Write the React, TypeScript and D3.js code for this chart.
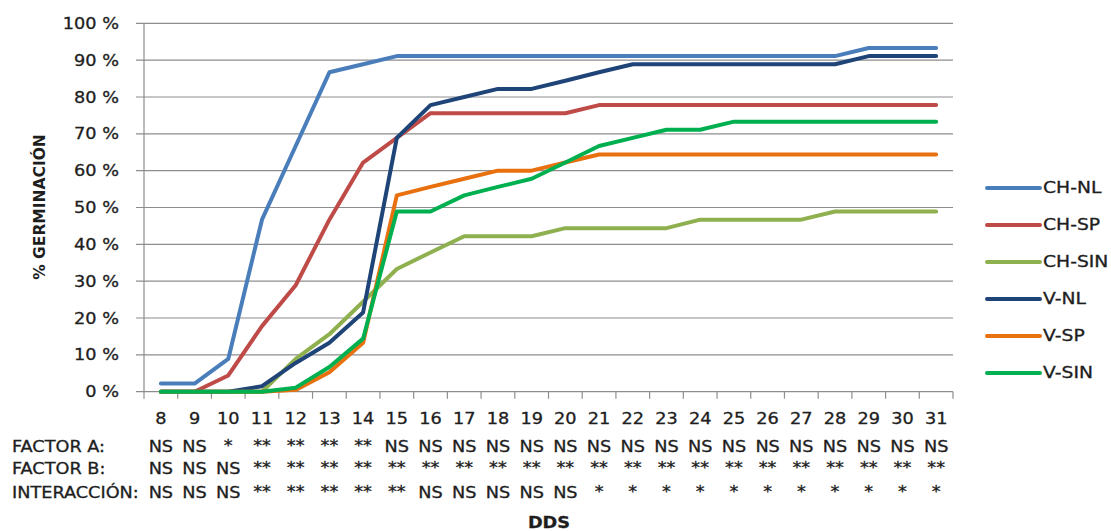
import React from "react";
import * as d3 from "d3";

const days = ["8","9","10","11","12","13","14","15","16","17","18","19","20","21","22","23","24","25","26","27","28","29","30","31"];

const seriesNames = ["CH-NL", "CH-SP", "CH-SIN", "V-NL", "V-SP", "V-SIN"];
const seriesColors = ["#4A7EBB", "#BE4B48", "#8FB04F", "#1F4478", "#E8700E", "#00B050"];

const chNL = [2.2,2.2,8.9,46.7,66.7,86.7,88.9,91.1,91.1,91.1,91.1,91.1,91.1,91.1,91.1,91.1,91.1,91.1,91.1,91.1,91.1,93.3,93.3,93.3];
const chSP = [0,0,4.4,17.8,28.9,46.7,62.2,68.9,75.6,75.6,75.6,75.6,75.6,77.8,77.8,77.8,77.8,77.8,77.8,77.8,77.8,77.8,77.8,77.8];
const chSIN = [0,0,0,0,8.9,15.6,24.4,33.3,37.8,42.2,42.2,42.2,44.4,44.4,44.4,44.4,46.7,46.7,46.7,46.7,48.9,48.9,48.9,48.9];
const vNL = [0,0,0,1.5,7.8,13.3,21.5,68.9,77.8,80,82.2,82.2,84.4,86.7,88.9,88.9,88.9,88.9,88.9,88.9,88.9,91.1,91.1,91.1];
const vSP = [0,0,0,0,0.5,5.3,13.3,53.3,55.6,57.8,60,60,62.2,64.4,64.4,64.4,64.4,64.4,64.4,64.4,64.4,64.4,64.4,64.4];
const vSIN = [0,0,0,0,1.1,6.7,14.4,48.9,48.9,53.3,55.6,57.8,62.2,66.7,68.9,71.1,71.1,73.3,73.3,73.3,73.3,73.3,73.3,73.3];

const yTicks = [0,10,20,30,40,50,60,70,80,90,100];

const factorA = ["NS","NS","*","**","**","**","**","NS","NS","NS","NS","NS","NS","NS","NS","NS","NS","NS","NS","NS","NS","NS","NS","NS"];
const factorB = ["NS","NS","NS","**","**","**","**","**","**","**","**","**","**","**","**","**","**","**","**","**","**","**","**","**"];
const interaccion = ["NS","NS","NS","**","**","**","**","**","NS","NS","NS","NS","NS","*","*","*","*","*","*","*","*","*","*","*"];
const rowLabels = ["FACTOR A:", "FACTOR B:", "INTERACCIÓN:"];

const FONT = "DejaVu Sans";
const SX = 1.18;
const TXT = "#1e1e1e";

function T({ x, y, anchor = "start", size = 15, weight = "normal", sx = SX, children }: any) {
  return (
    <text
      transform={`translate(${x},${y}) scale(${sx},1)`}
      textAnchor={anchor}
      dominantBaseline="central"
      fontFamily={FONT}
      fontSize={size}
      fontWeight={weight}
      fill={TXT}
      stroke={TXT}
      strokeWidth={0.3}
    >
      {children}
    </text>
  );
}

export default function App() {
  const W = 1111, H = 531;
  const left = 144, right = 953, top = 23.3, bottom = 391.7;
  const x = d3.scaleBand<string>().domain(days).range([left, right]);
  const y = d3.scaleLinear().domain([0, 100]).range([bottom, top]);
  const cx = (d: string) => (x(d) as number) + x.bandwidth() / 2;
  const allSeries = [chNL, chSP, chSIN, vNL, vSP, vSIN];
  const line = d3
    .line<number>()
    .x((_, i) => cx(days[i]))
    .y((v) => y(v));
  const tickXs = days.map((d) => x(d) as number).concat([right]);
  const rows = [factorA, factorB, interaccion];
  const rowY = [447, 469, 493];
  const legendY = [188, 225, 262, 299, 336, 373];

  return (
    <svg width={W} height={H} style={{ position: "absolute", left: 0, top: 0, background: "#fff" }}>
      <rect x={0} y={0} width={W} height={H} fill="#fff" />
      {yTicks.map((t) => (
        <g key={t}>
          <line x1={left - 8} x2={right} y1={y(t)} y2={y(t)} stroke="#8e8e8e" strokeWidth={1.2} />
          <T x={119} y={y(t) + 0.5} anchor="end" size={15}>{`${t} %`}</T>
        </g>
      ))}
      <line x1={left} x2={left} y1={top} y2={bottom} stroke="#8e8e8e" strokeWidth={1.2} />
      {tickXs.map((tx, i) => (
        <line key={i} x1={tx} x2={tx} y1={bottom} y2={bottom + 7} stroke="#8e8e8e" strokeWidth={1.2} />
      ))}
      {days.map((d) => (
        <T key={d} x={cx(d)} y={419} anchor="middle" size={15}>{d}</T>
      ))}
      {rows.map((r, ri) => (
        <g key={ri}>
          <T x={12} y={rowY[ri]} size={15}>{rowLabels[ri]}</T>
          {r.map((v, i) => (
            <T key={i} x={cx(days[i])} y={rowY[ri] + (v.startsWith("*") ? -1 : 0)} anchor="middle" size={15}>{v}</T>
          ))}
        </g>
      ))}
      <T x={549} y={523} anchor="middle" size={15} weight="bold">DDS</T>
      <text
        transform={`translate(40,207) rotate(-90)`}
        textAnchor="middle"
        dominantBaseline="central"
        fontFamily={FONT}
        fontSize={15.5}
        fontWeight="bold"
        fill={TXT}
      >
        % GERMINACIÓN
      </text>
      {allSeries.map((s, si) => (
        <path
          key={si}
          d={line(s) as string}
          fill="none"
          stroke={seriesColors[si]}
          strokeWidth={4}
          strokeLinejoin="round"
          strokeLinecap="round"
        />
      ))}
      {seriesNames.map((n, i) => (
        <g key={n}>
          <line x1={987} x2={1040} y1={legendY[i]} y2={legendY[i]} stroke={seriesColors[i]} strokeWidth={4} strokeLinecap="round" />
          <T x={1043} y={legendY[i]} size={15} sx={1.25}>{n}</T>
        </g>
      ))}
    </svg>
  );
}
